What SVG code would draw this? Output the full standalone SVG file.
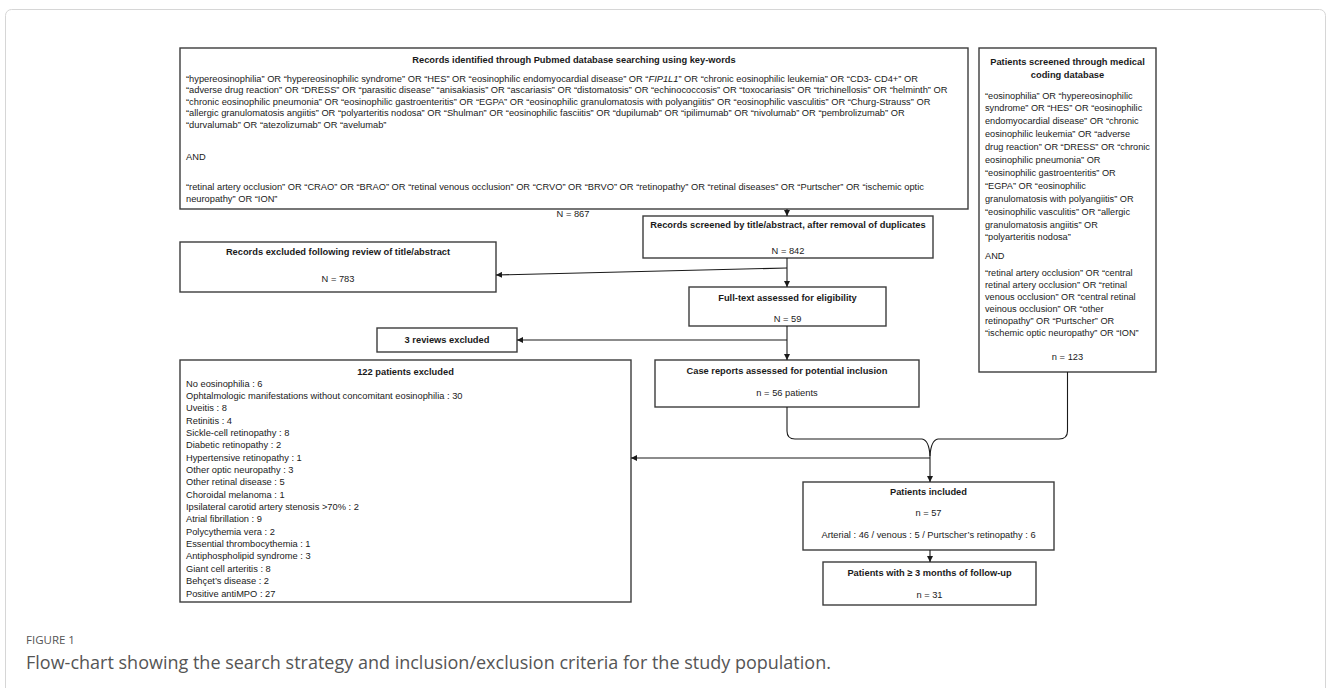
<svg xmlns="http://www.w3.org/2000/svg" width="1331" height="688" viewBox="0 0 1331 688">
<defs>
<style>
.box{fill:#fff;stroke:#3c3c3c;stroke-width:1.4}
.t{font-family:"Liberation Sans",Arial,sans-serif;font-size:9.3px;fill:#1a1a1a}
.s{font-size:9.2px}
.b{font-weight:bold}
.c{text-anchor:middle}
.conn{fill:none;stroke:#1a1a1a;stroke-width:1.1}
.cap{font-family:"Open Sans","Liberation Sans",sans-serif;fill:#555}
</style>
<marker id="ah" viewBox="0 0 10 10" refX="10" refY="5" markerWidth="6" markerHeight="6" orient="auto" markerUnits="userSpaceOnUse"><path d="M0,0 L10,5 L0,10 z" fill="#1a1a1a"/></marker>
</defs>
<rect width="1331" height="688" fill="#fff"/>
<rect x="5.5" y="9.5" width="1320" height="700" rx="6" fill="none" stroke="#d6d6d6"/>

<g id="pubmed">
<rect class="box" x="180" y="48" width="788" height="161"/>
<text class="t b c" x="574" y="62.5">Records identified through Pubmed database  searching using key-words</text>
<text class="t" x="186" y="81.5">“hypereosinophilia” OR “hypereosinophilic syndrome” OR “HES”  OR “eosinophilic endomyocardial disease” OR “<tspan font-style="italic">FIP1L1</tspan>”  OR “chronic eosinophilic leukemia” OR “CD3- CD4+”  OR</text>
<text class="t" x="186" y="93">“adverse drug reaction” OR “DRESS”  OR “parasitic disease” “anisakiasis” OR “ascariasis” OR “distomatosis” OR “echinococcosis” OR  “toxocariasis” OR “trichinellosis” OR “helminth” OR</text>
<text class="t" x="186" y="104.5">“chronic eosinophilic pneumonia” OR “eosinophilic gastroenteritis” OR “EGPA”  OR “eosinophilic granulomatosis with polyangiitis” OR  “eosinophilic vasculitis” OR “Churg-Strauss” OR</text>
<text class="t" x="186" y="116">“allergic granulomatosis angiitis” OR “polyarteritis nodosa” OR “Shulman” OR “eosinophilic fasciitis” OR “dupilumab” OR “ipilimumab” OR “nivolumab” OR “pembrolizumab” OR</text>
<text class="t" x="186" y="127.5">“durvalumab” OR “atezolizumab” OR “avelumab”</text>
<text class="t" x="186" y="160">AND</text>
<text class="t" x="186" y="189.5">“retinal artery occlusion” OR “CRAO” OR “BRAO” OR “retinal venous occlusion” OR “CRVO” OR “BRVO” OR “retinopathy” OR “retinal diseases” OR “Purtscher” OR “ischemic optic</text>
<text class="t" x="186" y="201.5">neuropathy” OR “ION”</text>
</g>
<g id="n867"><text class="t c" x="573" y="217">N = 867</text></g>

<g id="coding">
<rect class="box" x="979" y="48" width="177" height="324"/>
<text class="t b c" x="1067.5" y="64.5">Patients screened through medical</text>
<text class="t b c" x="1067.5" y="77.5">coding database</text>
<text class="t s" x="985" y="98.5">“eosinophilia” OR “hypereosinophilic</text>
<text class="t s" x="985" y="111.4">syndrome” OR “HES” OR “eosinophilic</text>
<text class="t s" x="985" y="124.3">endomyocardial disease” OR “chronic</text>
<text class="t s" x="985" y="137.2">eosinophilic leukemia” OR “adverse</text>
<text class="t s" x="985" y="150.1">drug reaction” OR “DRESS” OR “chronic</text>
<text class="t s" x="985" y="163">eosinophilic pneumonia” OR</text>
<text class="t s" x="985" y="175.9">“eosinophilic gastroenteritis” OR</text>
<text class="t s" x="985" y="188.8">“EGPA” OR “eosinophilic</text>
<text class="t s" x="985" y="201.7">granulomatosis with polyangiitis” OR</text>
<text class="t s" x="985" y="214.6">“eosinophilic vasculitis” OR “allergic</text>
<text class="t s" x="985" y="227.5">granulomatosis angiitis” OR</text>
<text class="t s" x="985" y="240.4">“polyarteritis nodosa”</text>
<text class="t s" x="985" y="259">AND</text>
<text class="t s" x="985" y="276.3">“retinal artery occlusion” OR “central</text>
<text class="t s" x="985" y="288.3">retinal artery occlusion” OR “retinal</text>
<text class="t s" x="985" y="300.3">venous occlusion” OR “central retinal</text>
<text class="t s" x="985" y="312.3">veinous occlusion” OR “other</text>
<text class="t s" x="985" y="324.3">retinopathy” OR “Purtscher” OR</text>
<text class="t s" x="985" y="336.3">“ischemic optic neuropathy” OR “ION”</text>
<text class="t c" x="1067.5" y="360">n = 123</text>
</g>

<g id="screened">
<rect class="box" x="643" y="216" width="290" height="42"/>
<text class="t b c" x="788" y="228">Records screened by title/abstract, after removal of duplicates</text>
<text class="t c" x="788" y="254">N = 842</text>
</g>

<g id="excluded-title">
<rect class="box" x="180" y="242" width="316" height="50"/>
<text class="t b c" x="338" y="255">Records excluded following review of title/abstract</text>
<text class="t c" x="338" y="282">N = 783</text>
</g>

<g id="fulltext">
<rect class="box" x="689" y="287" width="197" height="39"/>
<text class="t b c" x="787.5" y="301">Full-text assessed for eligibility</text>
<text class="t c" x="787.5" y="322">N = 59</text>
</g>

<g id="reviews">
<rect class="box" x="377" y="328" width="140" height="24"/>
<text class="t b c" x="447" y="343">3 reviews excluded</text>
</g>

<g id="casereports">
<rect class="box" x="655" y="360" width="264" height="47"/>
<text class="t b c" x="787" y="374">Case reports assessed for potential inclusion</text>
<text class="t c" x="787" y="396">n = 56 patients</text>
</g>

<g id="excluded122">
<rect class="box" x="180" y="360" width="451" height="242"/>
<text class="t b c" x="405.5" y="375">122 patients excluded</text>
<text class="t" x="186" y="386.5">No eosinophilia : 6</text>
<text class="t" x="186" y="398.9">Ophtalmologic manifestations without concomitant eosinophilia : 30</text>
<text class="t" x="186" y="411.2">Uveitis : 8</text>
<text class="t" x="186" y="423.6">Retinitis : 4</text>
<text class="t" x="186" y="435.9">Sickle-cell retinopathy : 8</text>
<text class="t" x="186" y="448.3">Diabetic retinopathy : 2</text>
<text class="t" x="186" y="460.6">Hypertensive retinopathy : 1</text>
<text class="t" x="186" y="473">Other optic neuropathy : 3</text>
<text class="t" x="186" y="485.3">Other retinal disease : 5</text>
<text class="t" x="186" y="497.7">Choroidal melanoma : 1</text>
<text class="t" x="186" y="510">Ipsilateral carotid artery stenosis &gt;70% : 2</text>
<text class="t" x="186" y="522.4">Atrial fibrillation : 9</text>
<text class="t" x="186" y="534.7">Polycythemia vera : 2</text>
<text class="t" x="186" y="547.1">Essential thrombocythemia : 1</text>
<text class="t" x="186" y="559.4">Antiphospholipid syndrome : 3</text>
<text class="t" x="186" y="571.8">Giant cell arteritis : 8</text>
<text class="t" x="186" y="584.1">Behçet’s disease : 2</text>
<text class="t" x="186" y="596.5">Positive antiMPO  : 27</text>
</g>

<g id="included">
<rect class="box" x="803" y="482" width="251" height="68"/>
<text class="t b c" x="928.5" y="495">Patients included</text>
<text class="t c" x="928.5" y="516">n = 57</text>
<text class="t c" x="928.5" y="538">Arterial : 46  / venous : 5 / Purtscher’s retinopathy : 6</text>
</g>

<g id="followup">
<rect class="box" x="823" y="562" width="213" height="43"/>
<text class="t b c" x="929.5" y="576">Patients with ≥ 3 months of follow-up</text>
<text class="t c" x="929.5" y="598">n = 31</text>
</g>

<g id="connectors">
<path class="conn" d="M787,209 V216" marker-end="url(#ah)"/>
<path class="conn" d="M787,258 V287" marker-end="url(#ah)"/>
<path class="conn" d="M787,268 L496,275" marker-end="url(#ah)"/>
<path class="conn" d="M787,326 V360" marker-end="url(#ah)"/>
<path class="conn" d="M787,340 H517" marker-end="url(#ah)"/>
<path class="conn" d="M787,407 V431 Q787,439 795,439 H922 Q929,440 930,456"/>
<path class="conn" d="M1067.5,372 V431 Q1067.5,439 1059,439 H938 Q931,440 930,456"/>
<path class="conn" d="M930,456 V482" marker-end="url(#ah)"/>
<path class="conn" d="M930,458 H631" marker-end="url(#ah)"/>
<path class="conn" d="M930,550 V562" marker-end="url(#ah)"/>
</g>

<g id="caption">
<text class="cap" x="26" y="644" font-size="11.5px">FIGURE 1</text>
<text class="cap" x="26" y="669" font-size="18px">Flow-chart showing the search strategy and inclusion/exclusion criteria for the study population.</text>
</g>
</svg>
